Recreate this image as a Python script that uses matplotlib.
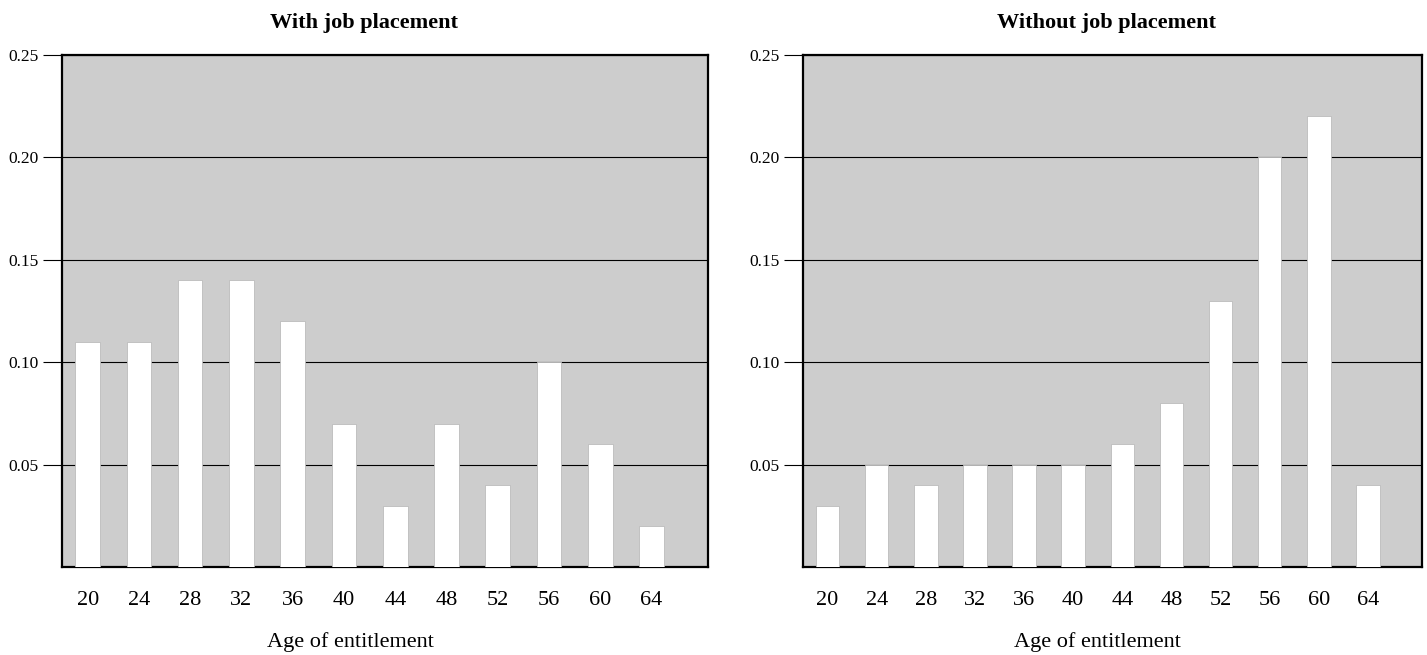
import matplotlib
matplotlib.use("Agg")
import matplotlib.pyplot as plt
import numpy as np

# ages of entitlement and shares per panel
ages = [20, 24, 28, 32, 36, 40, 44, 48, 52, 56, 60, 64]
with_job = [0.11, 0.11, 0.14, 0.14, 0.12, 0.07, 0.03, 0.07, 0.04, 0.10, 0.06, 0.02]
without_job = [0.03, 0.05, 0.04, 0.05, 0.05, 0.05, 0.06, 0.08, 0.13, 0.20, 0.22, 0.04]
titles = ["With job placement", "Without job placement"]
yticks = [0.05, 0.10, 0.15, 0.20, 0.25]

plt.rcParams['font.family'] = ['Liberation Serif', 'DejaVu Serif']

fig = plt.figure(figsize=(14.27, 6.55), dpi=100)
# axes boxes in figure fractions (left, bottom, width, height)
boxes = [[62/1427, 1 - 567/655, 646/1427, 512/655],
         [803/1427, 1 - 567/655, 619/1427, 512/655]]
title_x = [0.467, 0.49]
label_x = [0.447, 0.475]

for i, (box, vals, title) in enumerate(zip(boxes, [with_job, without_job], titles)):
    ax = fig.add_axes(box)
    x = np.arange(len(ages))
    ax.set_facecolor('#cdcdcd')
    ax.bar(x, vals, width=0.48, color='white', edgecolor='#bbbbbb', linewidth=0.6, zorder=3)
    ax.set_xlim(-0.5, 12.1)
    ax.set_ylim(0, 0.25)
    ax.set_yticks(yticks)
    ax.set_yticklabels(['%.2f' % t for t in yticks], fontsize=12.5)
    ax.yaxis.grid(True, color='black', linewidth=0.8, zorder=1)
    ax.set_axisbelow(True)
    ax.tick_params(axis='y', length=14, width=0.8, pad=3)
    ax.set_xticks(x)
    ax.set_xticklabels([str(a) for a in ages], fontsize=16)
    ax.tick_params(axis='x', length=0, pad=17)
    for s in ax.spines.values():
        s.set_linewidth(1.6)
    ax.set_xlabel('Age of entitlement', fontsize=16)
    ax.xaxis.set_label_coords(label_x[i], -0.128)
    ax.set_title(title, fontsize=16, fontweight='bold', x=title_x[i], y=1.053, pad=0)

fig.savefig('out.png', dpi=100)
